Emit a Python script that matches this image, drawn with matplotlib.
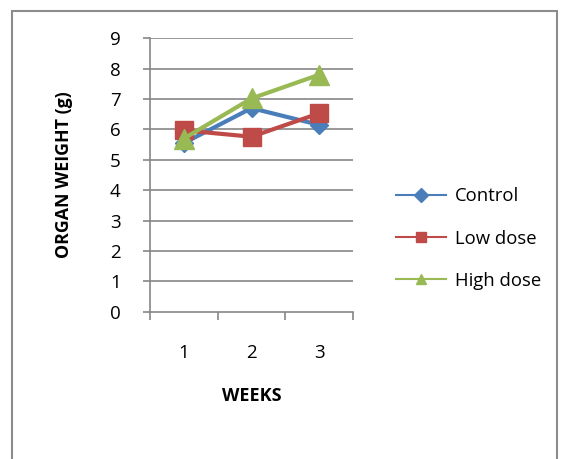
import matplotlib
matplotlib.use("Agg")
import matplotlib.pyplot as plt
from matplotlib.lines import Line2D
from matplotlib.patches import Rectangle

plt.rcParams['font.family'] = ['Open Sans', 'DejaVu Sans']

weeks = [1, 2, 3]
week_labels = ["1", "2", "3"]
control = [5.55, 6.7, 6.15]
low_dose = [5.97, 5.76, 6.53]
high_dose = [5.7, 7.02, 7.8]

series = [
    ("Control", control, "#4A7EBB", "D", 9),
    ("Low dose", low_dose, "#BE4B48", "s", 13),
    ("High dose", high_dose, "#98B954", "^", 15),
]

W, H = 561, 459
fig = plt.figure(figsize=(W / 100, H / 100), dpi=100)
ax = fig.add_axes([150 / W, 1 - 311.7 / H, (353 - 150) / W, (311.7 - 38.3) / H])

grid_c = "#868686"
for y in range(1, 10):
    ax.axhline(y, color=grid_c, lw=1.2, zorder=1)

handles = []
for name, vals, col, mk, ms in series:
    ax.plot(weeks, vals, color=col, lw=3.0, marker=mk, markersize=ms,
            markerfacecolor=col, markeredgecolor=col, zorder=3)
    handles.append(Line2D([], [], color=col, lw=1.5, marker=mk,
                          markersize=7.5, markerfacecolor=col, markeredgecolor=col))

ax.set_xlim(0.5, 3.5)
ax.set_ylim(0, 9)
ax.set_yticks(range(0, 10))
ax.set_xticks([0.5, 1.5, 2.5, 3.5])
ax.set_xticklabels([])
ax.set_xticks(weeks, minor=True)
ax.set_xticklabels(week_labels, minor=True)
ax.tick_params(axis='x', which='major', length=6, width=1.2, color=grid_c, direction='out')
ax.tick_params(axis='x', which='minor', length=0, pad=23, labelsize=13.5)
ax.tick_params(axis='y', length=5, width=1.2, color=grid_c, direction='out', pad=16, labelsize=13.5)

for s in ['top', 'right']:
    ax.spines[s].set_visible(False)
for s in ['left', 'bottom']:
    ax.spines[s].set_color(grid_c)
    ax.spines[s].set_linewidth(1.2)

ax.set_xlabel("WEEKS", fontweight='bold', fontsize=13, labelpad=18)
ax.set_ylabel("ORGAN WEIGHT (g)", fontweight='bold', fontsize=12.8, labelpad=27)

leg = fig.legend(handles, [s[0] for s in series], loc='center left',
                 bbox_to_anchor=(379 / W, 1 - 238.5 / H), frameon=False,
                 fontsize=13.3, handlelength=2.75, labelspacing=1.3, handletextpad=0.45)

frame = Rectangle((12 / W, -0.1), (557 - 12) / W, 1.1 - 11 / H,
                  transform=fig.transFigure, fill=False, edgecolor="#8C8C8C",
                  lw=1.5, clip_on=False)
fig.add_artist(frame)

fig.savefig("out.png", dpi=100)
